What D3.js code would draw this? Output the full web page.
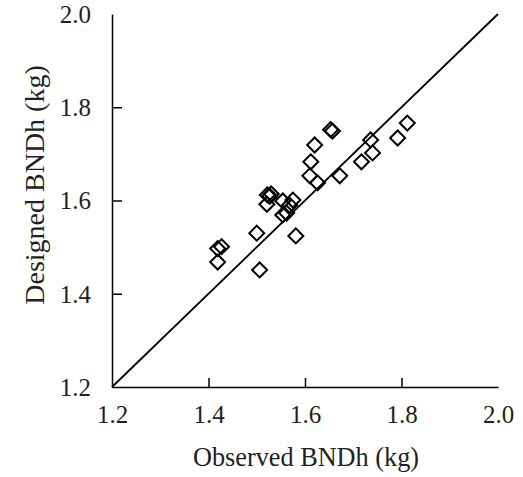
<!DOCTYPE html>
<html>
<head>
<meta charset="utf-8">
<script src="https://cdn.jsdelivr.net/npm/d3@7"></script>
<style>
  html, body { margin: 0; padding: 0; background: #fff; }
  svg { display: block; }
  text { font-family: "Liberation Serif", "Times New Roman", serif; fill: #231f20; }
</style>
</head>
<body>
<svg id="chart" width="523" height="477"></svg>
<script>
// Data
const observed = [1.419, 1.427, 1.419, 1.500, 1.506, 1.522, 1.527, 1.530, 1.521, 1.554, 1.575, 1.568, 1.554, 1.562, 1.581, 1.610, 1.612, 1.620, 1.653, 1.657, 1.626, 1.672, 1.736, 1.717, 1.740, 1.792, 1.812];
const designed = [1.497, 1.501, 1.468, 1.530, 1.451, 1.612, 1.609, 1.614, 1.592, 1.599, 1.601, 1.590, 1.569, 1.573, 1.524, 1.653, 1.683, 1.719, 1.752, 1.749, 1.638, 1.653, 1.730, 1.683, 1.702, 1.734, 1.766];
const xTicks = [1.2, 1.4, 1.6, 1.8, 2.0];
const yTicks = [1.2, 1.4, 1.6, 1.8, 2.0];
const refLine = [1.2, 2.0];
const xTitle = "Observed BNDh (kg)";
const yTitle = "Designed BNDh (kg)";

const svg = d3.select("#chart");
const mLeft = 112, mRight = 498, mTop = 14, mBottom = 387;

const x = d3.scaleLinear().domain([1.2, 2.0]).range([mLeft, mRight]);
const y = d3.scaleLinear().domain([1.2, 2.0]).range([mBottom, mTop]);

// X axis
const xAxis = svg.append("g").attr("transform", `translate(0,${mBottom})`)
  .call(d3.axisBottom(x).tickValues(xTicks).tickFormat(d3.format(".1f")).tickSizeInner(-9).tickSizeOuter(0).tickPadding(0));
xAxis.select(".domain").attr("stroke", "#000").attr("stroke-width", 1.5);
xAxis.selectAll(".tick line").attr("stroke", "#000").attr("stroke-width", 1.5);
xAxis.selectAll(".tick text").attr("font-size", 25).attr("font-family", "Liberation Serif")
  .attr("fill", "#231f20").attr("y", 36).attr("dy", 0);
xAxis.selectAll(".tick").filter(d => d === 1.2 || d === 2.0).select("line").remove();

// Y axis
const yAxis = svg.append("g").attr("transform", `translate(${mLeft},0)`)
  .call(d3.axisLeft(y).tickValues(yTicks).tickFormat(d3.format(".1f")).tickSizeInner(-10).tickSizeOuter(0).tickPadding(0));
yAxis.select(".domain").attr("stroke", "#000").attr("stroke-width", 1.5);
yAxis.selectAll(".tick line").attr("stroke", "#000").attr("stroke-width", 1.5);
yAxis.selectAll(".tick text").attr("font-size", 25).attr("font-family", "Liberation Serif")
  .attr("fill", "#231f20").attr("x", -21).attr("dy", "0.33em");
yAxis.selectAll(".tick").filter(d => d === 1.2 || d === 2.0).select("line").remove();

// 1:1 line
svg.append("line")
  .attr("x1", x(refLine[0])).attr("y1", y(refLine[0]))
  .attr("x2", x(refLine[1])).attr("y2", y(refLine[1]))
  .attr("stroke", "#000").attr("stroke-width", 1.8);

// Points (diamonds)
const pts = observed.map((o, i) => ({ o, d: designed[i] }));
const sym = d3.symbol().type(d3.symbolSquare).size(112);
svg.append("g").selectAll("path").data(pts).join("path")
  .attr("d", sym)
  .attr("transform", d => `translate(${x(d.o)},${y(d.d)}) rotate(45)`)
  .attr("fill", "none")
  .attr("stroke", "#000").attr("stroke-width", 2);

// Axis titles
svg.append("text").attr("x", 306).attr("y", 466)
  .attr("text-anchor", "middle").attr("font-size", 28)
  .attr("textLength", 226).attr("lengthAdjust", "spacingAndGlyphs").text(xTitle);
svg.append("text").attr("transform", `translate(44,185) rotate(-90)`)
  .attr("text-anchor", "middle").attr("font-size", 28).text(yTitle);
</script>
</body>
</html>
